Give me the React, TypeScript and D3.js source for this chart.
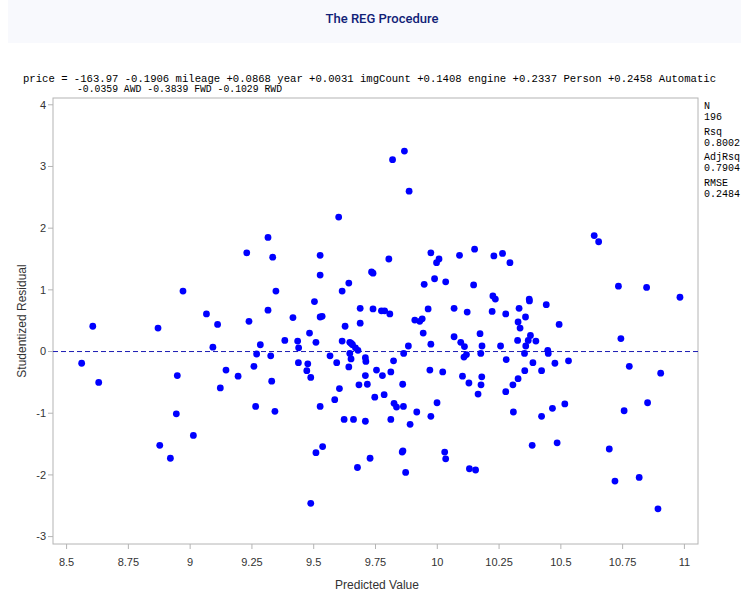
import React from "react";
import * as d3 from "d3";

// Fitted values and studentized residuals for the 196 observations
const predictedValue = [
  9.601, 9.315, 9.229, 9.334, 9.526, 9.526, 9.734, 9.74, 9.642, 9.615,
  8.971, 9.347, 9.503, 9.066, 9.315, 9.416, 9.526, 9.534, 9.688, 9.74,
  9.238, 9.867, 9.819, 9.886, 10.635, 10.653, 9.804, 9.974, 10.007, 9.997,
  10.09, 10.151, 10.229, 10.264, 10.294, 9.947, 9.989, 10.034, 10.147, 10.733,
  10.847, 10.982, 10.225, 10.235, 10.372, 10.373, 10.441, 9.774, 9.787, 9.808,
  9.963, 10.068, 10.121, 10.222, 10.277, 10.331, 10.357, 8.606, 8.87, 9.111,
  9.627, 9.688, 9.483, 9.383, 9.435, 9.439, 9.509, 9.284, 9.092, 9.269,
  9.326, 9.615, 9.646, 9.657, 9.669, 9.679, 9.646, 9.651, 9.566, 9.593,
  9.642, 9.709, 9.711, 8.561, 8.63, 8.948, 9.145, 9.194, 9.122, 9.258,
  9.438, 9.476, 9.472, 9.488, 9.33, 9.604, 9.585, 9.709, 9.683, 9.717,
  9.754, 9.747, 9.265, 9.343, 9.526, 9.623, 9.661, 9.709, 8.944, 9.013,
  8.877, 8.92, 9.536, 9.509, 9.728, 9.677, 9.488, 9.909, 9.929, 9.939,
  10.327, 10.335, 10.493, 9.943, 10.068, 10.095, 10.11, 10.173, 10.181, 10.256,
  10.325, 10.377, 10.368, 10.358, 10.399, 10.447, 10.449, 9.883, 9.974, 9.864,
  10.176, 10.353, 10.108, 9.823, 10.279, 10.387, 10.476, 10.531, 10.743, 10.777,
  10.904, 9.812, 9.778, 9.97, 10.022, 10.102, 10.128, 10.18, 10.177, 10.165,
  10.354, 10.422, 10.327, 10.306, 10.277, 9.86, 9.785, 9.825, 9.835, 9.863,
  9.812, 9.89, 9.917, 9.974, 9.999, 10.308, 10.422, 10.466, 10.516, 10.756,
  10.851, 9.858, 10.03, 10.034, 9.872, 10.13, 10.155, 10.384, 10.485, 10.696,
  10.719, 10.817, 10.893, 9.861, 9.652, 10.118,
];

const studentizedResidual = [
  2.18, 1.85, 1.6, 1.53, 1.56, 1.24, 1.29, 1.27, 1.11, 0.98,
  0.98, 0.98, 0.81, 0.61, 0.67, 0.55, 0.56, 0.57, 0.7, 0.69,
  0.49, 3.25, 3.11, 2.6, 1.88, 1.78, 1.5, 1.6, 1.5, 1.44,
  1.56, 1.66, 1.55, 1.59, 1.44, 1.09, 1.18, 1.13, 1.08, 1.06,
  1.04, 0.88, 0.9, 0.85, 0.85, 0.82, 0.76, 0.66, 0.66, 0.61,
  0.69, 0.7, 0.64, 0.65, 0.61, 0.7, 0.56, 0.41, 0.38, 0.44,
  0.41, 0.46, 0.3, 0.18, 0.17, 0.06, 0.15, 0.11, 0.07, -0.04,
  -0.07, 0.17, 0.15, 0.11, 0.06, 0.02, -0.03, -0.12, -0.07, -0.18,
  -0.25, -0.1, -0.16, -0.19, -0.5, -0.39, -0.3, -0.4, -0.59, -0.24,
  -0.18, -0.2, -0.31, -0.42, -0.48, -0.6, -0.78, -0.39, -0.54, -0.53,
  -0.3, -0.74, -0.89, -0.97, -0.89, -1.1, -1.1, -1.13, -1.01, -1.36,
  -1.52, -1.73, -1.54, -1.64, -1.73, -1.88, -2.46, 0.51, 0.49, 0.53,
  0.48, 0.38, 0.44, 0.3, 0.24, 0.15, 0.08, 0.29, 0.09, 0.09,
  0.18, 0.26, 0.18, 0.09, 0.17, 0.02, -0.03, 0.09, 0.12, -0.03,
  -0.03, -0.03, -0.09, -0.15, -0.13, -0.18, -0.19, -0.15, 0.21, -0.24,
  -0.35, -0.33, -0.39, -0.3, -0.33, -0.4, -0.51, -0.41, -0.54, -0.69,
  -0.31, -0.31, -0.44, -0.54, -0.65, -0.53, -0.7, -0.84, -0.9, -0.89,
  -1.1, -1.18, -0.98, -1.05, -0.83, -0.98, -1.05, -0.92, -0.85, -0.96,
  -0.83, -1.63, -1.63, -1.74, -1.96, -1.9, -1.92, -1.52, -1.48, -1.58,
  -2.1, -2.04, -2.55, -1.61, 0.13, -0.05,
];

const xTicks = [8.5, 8.75, 9, 9.25, 9.5, 9.75, 10, 10.25, 10.5, 10.75, 11];
const yTicks = [-3, -2, -1, 0, 1, 2, 3, 4];

const equationLines = [
  "price = -163.97 -0.1906 mileage +0.0868 year +0.0031 imgCount +0.1408 engine +0.2337 Person +0.2458 Automatic",
  "-0.0359 AWD -0.3839 FWD -0.1029 RWD",
];

const fitStatLabels = ["N", "Rsq", "AdjRsq", "RMSE"];
const fitStatValues = ["196", "0.8002", "0.7904", "0.2484"];

const W = 741;
const H = 594;
const frame = { left: 53, right: 698, top: 98, bottom: 544 };

const sans = "'Liberation Sans', Arial, sans-serif";
const mono = "'Liberation Mono', 'DejaVu Sans Mono', monospace";

export default function App() {
  const x = d3.scaleLinear().domain([8.445, 11.055]).range([frame.left, frame.right]);
  const y = d3.scaleLinear().domain([-3.12, 4.11]).range([frame.bottom, frame.top]);

  const points = predictedValue.map((p, i) => ({ p, r: studentizedResidual[i] }));
  const axisColor = "#b4b4b4";
  const textColor = "#333333";

  return (
    <svg
      width={W}
      height={H}
      style={{ position: "absolute", left: 0, top: 0, background: "#ffffff" }}
    >
      {/* page banner */}
      <rect x={8} y={0} width={W - 8} height={43} fill="#f8f9fd" />
      <text
        x={382}
        y={23}
        textAnchor="middle"
        fontFamily="Roboto, 'Liberation Sans', sans-serif"
        fontWeight={500}
        fontSize={13}
        fill="#112277"
      >
        The REG Procedure
      </text>

      {/* fitted model equation */}
      <text x={23} y={82} fontFamily={mono} fontSize={10} fill="#000" textLength={693} lengthAdjust="spacingAndGlyphs">
        {equationLines[0]}
      </text>
      <text x={77} y={92} fontFamily={mono} fontSize={10} fill="#000" textLength={205} lengthAdjust="spacingAndGlyphs">
        {equationLines[1]}
      </text>

      {/* fit statistics inset */}
      {fitStatLabels.map((lab, i) => (
        <g key={lab} fontFamily={mono} fontSize={10} fill="#000">
          <text x={704} y={109 + i * 25.5}>{lab}</text>
          <text x={704} y={120 + i * 25.5}>{fitStatValues[i]}</text>
        </g>
      ))}

      {/* plot frame */}
      <rect
        x={frame.left}
        y={frame.top}
        width={frame.right - frame.left}
        height={frame.bottom - frame.top}
        fill="#ffffff"
        stroke={axisColor}
        strokeWidth={1}
      />

      {/* y axis */}
      {yTicks.map((t) => (
        <g key={`y${t}`}>
          <line x1={frame.left - 5} x2={frame.left} y1={y(t)} y2={y(t)} stroke={axisColor} />
          <text
            x={frame.left - 7}
            y={y(t)}
            dy="0.35em"
            textAnchor="end"
            fontFamily={sans}
            fontSize={11}
            fill={textColor}
          >
            {t}
          </text>
        </g>
      ))}

      {/* x axis */}
      {xTicks.map((t) => (
        <g key={`x${t}`}>
          <line x1={x(t)} x2={x(t)} y1={frame.bottom} y2={frame.bottom + 5} stroke={axisColor} />
          <text
            x={x(t)}
            y={frame.bottom + 22}
            textAnchor="middle"
            fontFamily={sans}
            fontSize={11}
            fill={textColor}
          >
            {d3.format("")(t)}
          </text>
        </g>
      ))}

      <text
        x={377}
        y={589}
        textAnchor="middle"
        fontFamily={sans}
        fontSize={12}
        fill={textColor}
      >
        Predicted Value
      </text>
      <text
        transform={`translate(26, ${(frame.top + frame.bottom) / 2}) rotate(-90)`}
        textAnchor="middle"
        fontFamily={sans}
        fontSize={12}
        fill={textColor}
      >
        Studentized Residual
      </text>

      {/* zero reference line */}
      <line
        x1={frame.left}
        x2={frame.right}
        y1={y(0)}
        y2={y(0)}
        stroke="#1c1cb4"
        strokeWidth={1}
        strokeDasharray="5,3"
      />

      {/* residual points */}
      {points.map((d, i) => (
        <circle key={i} cx={x(d.p)} cy={y(d.r)} r={3.4} fill="#0000ff" />
      ))}
    </svg>
  );
}
